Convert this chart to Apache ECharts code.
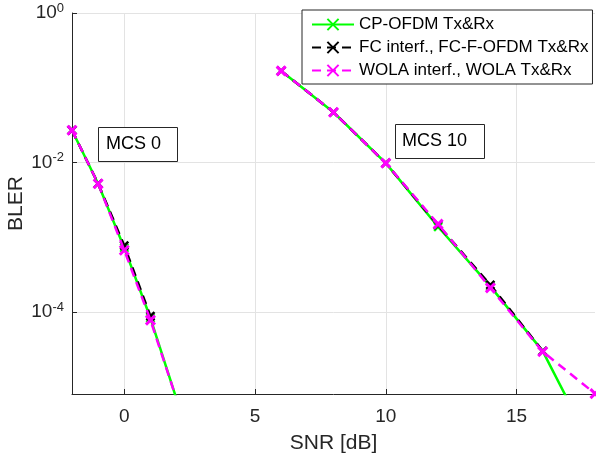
<!DOCTYPE html>
<html>
<head>
<meta charset="utf-8">
<script src="https://cdn.jsdelivr.net/npm/echarts@6/dist/echarts.min.js"></script>
<style>
html,body{margin:0;padding:0;background:#fff;}
#chart{width:596px;height:459px;}
</style>
</head>
<body>
<div id="chart"></div>
<script>
// ---- data ----
const snrMcs0 = [-2, -1, 0, 1, 2];
const cpMcs0 = [0.027, 0.0052, 7.2e-4, 8.3e-5, 6.8e-6];
const fcMcs0 = [0.027, 0.0052, 7.7e-4, 8.8e-5, null];
const wolaMcs0 = [0.027, 0.0052, 6.7e-4, 7.8e-5, 6.8e-6];

const snrMcs10 = [6, 8, 10, 12, 14, 16, 18];
const cpMcs10 = [0.168, 0.047, 0.0098, 0.00138, 2.2e-4, 3.0e-5, 1.3e-6];
const fcMcs10 = [0.168, 0.047, 0.0098, 0.00145, 2.3e-4, 3.0e-5, null];
const wolaMcs10 = [0.168, 0.047, 0.0098, 0.0015, 2.1e-4, 2.95e-5, 8.1e-6];

const xTicks = [0, 5, 10, 15];
const yTicks = [1e-4, 1e-2, 1];
const xMin = -2, xMax = 18;
const yMin = 8e-6, yMax = 1;
const seriesNames = ['CP-OFDM Tx&Rx', 'FC interf., FC-F-OFDM Tx&Rx', 'WOLA interf., WOLA Tx&Rx'];
const annotations = ['MCS 0', 'MCS 10'];

// ---- chart ----
const FONT = 'Liberation Sans, Arial, Helvetica, sans-serif';
const TXT = '#262626';
const GRID = '#e3e3e3';
const cross = 'path://M0,0L10,10M10,0L0,10';

function pairs(xs, ys) { return xs.map((x, i) => [x, ys[i]]); }

const styles = [
  { color: '#00ff00', type: 'solid', w: 2.5 },
  { color: '#000000', type: [9, 6], w: 2.5 },
  { color: '#ff00ff', type: [9, 6], w: 2.5 }
];
const dataSets = [
  [pairs(snrMcs0, cpMcs0), pairs(snrMcs10, cpMcs10)],
  [pairs(snrMcs0, fcMcs0), pairs(snrMcs10, fcMcs10)],
  [pairs(snrMcs0, wolaMcs0), pairs(snrMcs10, wolaMcs10)]
];

const series = [];
dataSets.forEach((sets, k) => {
  sets.forEach(d => {
    series.push({
      name: seriesNames[k],
      type: 'line',
      data: d,
      connectNulls: false,
      clip: true,
      symbol: cross,
      symbolSize: k === 2 ? 9 : 8,
      showAllSymbol: true,
      lineStyle: { color: styles[k].color, width: styles[k].w, type: styles[k].type },
      itemStyle: { color: styles[k].color, borderColor: styles[k].color, borderWidth: k === 2 ? 3 : 2.5 },
      emphasis: { disabled: true },
      animation: false,
      z: 2 + k
    });
  });
});

const chart = echarts.init(document.getElementById('chart'), null, { renderer: 'canvas' });
chart.setOption({
  animation: false,
  backgroundColor: '#fff',
  textStyle: { fontFamily: FONT },
  grid: { left: 72, right: 1, top: 13, bottom: 65, containLabel: false, outerBoundsMode: 'none' },
  legend: {
    data: seriesNames,
    orient: 'vertical',
    left: 302, top: 10,
    padding: [6, 4, 5, 9],
    itemWidth: 42, itemHeight: 14, itemGap: 6,
    backgroundColor: '#fff',
    borderColor: TXT, borderWidth: 1,
    textStyle: { fontSize: 17, color: '#000', fontFamily: FONT },
    selectedMode: false
  },
  xAxis: {
    type: 'value', min: xMin, max: xMax, position: 'bottom',
    name: 'SNR [dB]', nameLocation: 'middle', nameGap: 39, nameMoveOverlap: false,
    nameTextStyle: { fontSize: 21, color: TXT, fontFamily: FONT },
    axisLine: { show: true, onZero: false, lineStyle: { color: TXT, width: 1 } },
    axisTick: { show: true, inside: true, length: 5, customValues: xTicks, lineStyle: { color: TXT } },
    axisLabel: { customValues: xTicks, fontSize: 19, color: TXT, margin: 13, fontFamily: FONT },
    splitLine: { show: true, lineStyle: { color: GRID, width: 1 } }
  },
  yAxis: {
    type: 'log', logBase: 10, min: yMin, max: yMax, position: 'left',
    name: 'BLER', nameLocation: 'middle', nameGap: 45, nameRotate: 90, nameMoveOverlap: false,
    nameTextStyle: { fontSize: 21, color: TXT, fontFamily: FONT },
    axisLine: { show: true, onZero: false, lineStyle: { color: TXT, width: 1 } },
    axisTick: { show: true, inside: true, length: 5, customValues: yTicks, lineStyle: { color: TXT } },
    axisLabel: {
      customValues: yTicks, margin: 8, color: TXT,
      formatter: v => '{b|10}{s|' + Math.round(Math.log10(v)) + '}',
      rich: {
        b: { fontSize: 19, color: TXT, fontFamily: FONT },
        s: { fontSize: 13, color: TXT, fontFamily: FONT, padding: [0, 0, 10, 0] }
      }
    },
    splitLine: { show: true, lineStyle: { color: GRID, width: 1 } },
    minorTick: { show: false }
  },
  graphic: [
    { type: 'rect', shape: { x: 98.5, y: 127.5, width: 79, height: 34 }, style: { fill: '#fff', stroke: TXT, lineWidth: 1 }, z: 10 },
    { type: 'text', x: 106, y: 144.5, style: { text: annotations[0], fill: '#000', font: '18px ' + FONT, textVerticalAlign: 'middle' }, z: 11 },
    { type: 'rect', shape: { x: 395.5, y: 124.5, width: 89, height: 34 }, style: { fill: '#fff', stroke: TXT, lineWidth: 1 }, z: 10 },
    { type: 'text', x: 402, y: 141.5, style: { text: annotations[1], fill: '#000', font: '18px ' + FONT, textVerticalAlign: 'middle' }, z: 11 }
  ],
  series: series
});
</script>
</body>
</html>
